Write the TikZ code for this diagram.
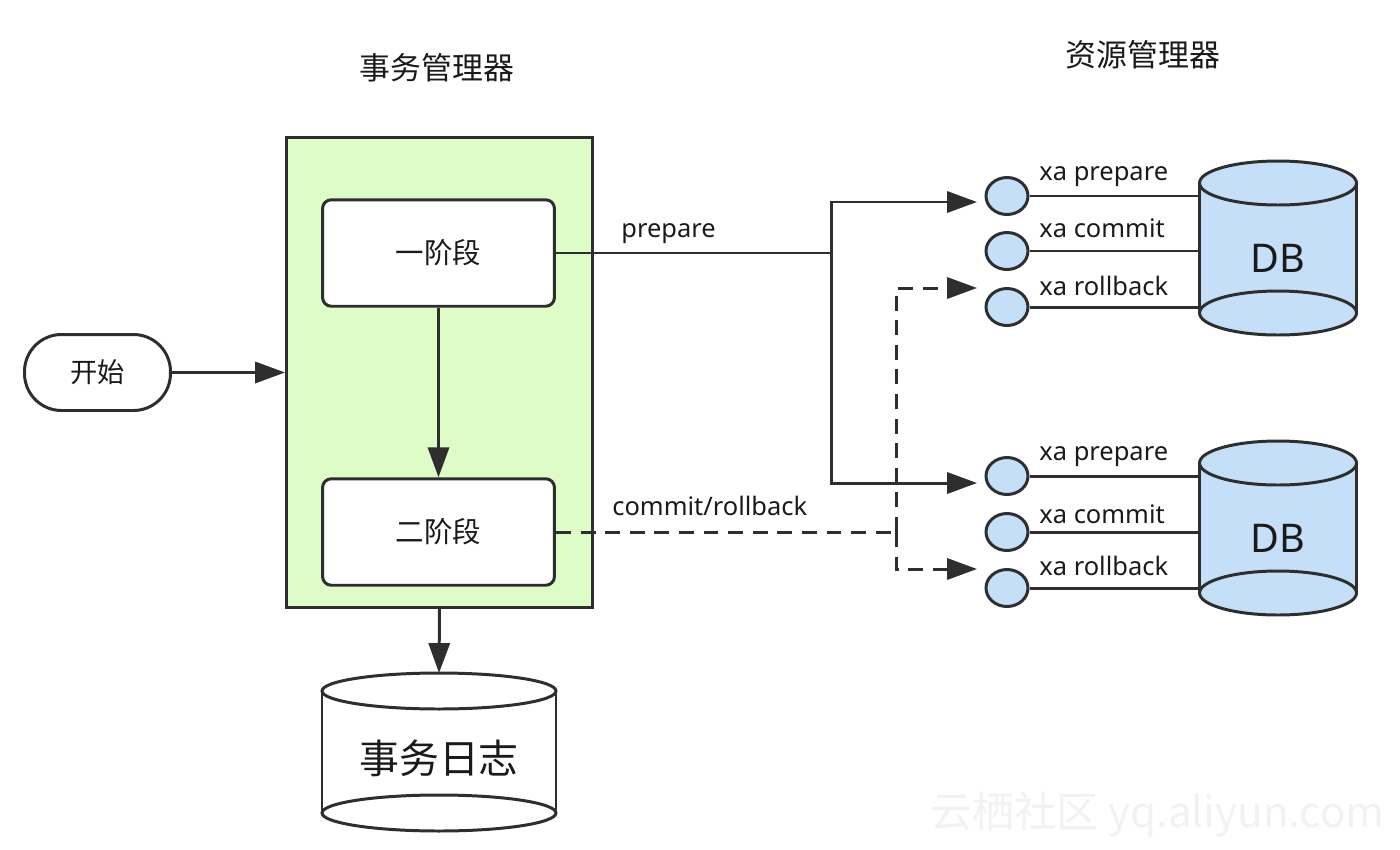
\documentclass[tikz,border=0pt]{standalone}
\usepackage{fontspec}
\setmainfont{Noto Sans}
\newfontfamily\cjk{Noto Sans CJK SC}
\usetikzlibrary{arrows.meta,shapes.geometric,calc}
\definecolor{ln}{HTML}{2E2E2E}
\definecolor{txt}{HTML}{1A1A1A}
\definecolor{gfill}{HTML}{DDFCC8}
\definecolor{bfill}{HTML}{C6DFF9}
\begin{document}
\begin{tikzpicture}[x=0.02cm,y=-0.02cm,
  every node/.style={text=txt},
  wire/.style={draw=ln,line width=1.7pt},
  stagebox/.style={wire,fill=white,rounded corners=5pt,minimum width=4.64cm,minimum height=2.13cm,inner sep=0pt,font=\cjk\fontsize{16.2}{17}\selectfont},
  arr/.style={wire,-{Triangle[length=17pt,width=12pt]}},
  dsh/.style={dash pattern=on 8.5pt off 5.5pt},
  port/.style={ellipse,wire,fill=bfill,minimum width=0.84cm,minimum height=0.74cm,inner sep=0pt},
  lbl/.style={font=\fontsize{14.5}{15}\selectfont,anchor=base west,inner sep=0pt},
  title/.style={font=\cjk\fontsize{17.6}{18}\selectfont},
  dbtext/.style={font=\fontsize{22.5}{23}\selectfont}
]
\useasboundingbox (0,0) rectangle (1400,849);

% watermark
\node[font=\cjk\fontsize{24}{25}\selectfont,text=black!5,anchor=west,inner sep=0pt] (wm) at (930,815) {云栖社区 yq.aliyun.com};

% titles
\node[title] (tmt) at (437,68) {事务管理器};
\node[title] (rmt) at (1143,55) {资源管理器};

% transaction manager
\node[wire,fill=gfill,minimum width=6.12cm,minimum height=9.4cm,inner sep=0pt] (tm) at (439.5,372.5) {};
\node[stagebox] (p1) at (438.5,253) {一阶段};
\node[stagebox] (p2) at (438.5,532) {二阶段};

% start
\node[wire,fill=white,rounded corners=0.74cm,minimum width=2.92cm,minimum height=1.52cm,inner sep=0pt,font=\cjk\fontsize{15.5}{16}\selectfont] (start) at (97.5,372.5) {开始};

% log cylinder
\fill[white] (322,691) rectangle (556,813);
\draw[wire] (439,813) ellipse [x radius=2.34cm, y radius=0.36cm];
\draw[wire] (322,691) -- (322,813) (556,691) -- (556,813);
\draw[wire,fill=white] (439,691) ellipse [x radius=2.34cm, y radius=0.36cm];
\coordinate (logtop) at (439,673);
\node[font=\cjk\fontsize{22.7}{23}\selectfont] (log) at (439,758) {事务日志};

% arrows in TM
\draw[arr] (start.east) -- (start.east -| tm.west);
\draw[arr] (p1.south) -- (p2.north);
\draw[arr] (tm.south) -- (logtop);

% ports
\node[port] (c1) at (1007,196) {};
\node[port] (c2) at (1007,251) {};
\node[port] (c3) at (1007,307) {};
\node[port] (d1) at (1007,476) {};
\node[port] (d2) at (1007,532) {};
\node[port] (d3) at (1007,588) {};

\coordinate (db1l) at (1199.5,183);
\coordinate (db2l) at (1199.5,463);
\draw[wire] (c1.east) -- (c1.east -| db1l);
\draw[wire] (c2.east) -- (c2.east -| db1l);
\draw[wire] (c3.east) -- (c3.east -| db1l);
\draw[wire] (d1.east) -- (d1.east -| db2l);
\draw[wire] (d2.east) -- (d2.east -| db2l);
\draw[wire] (d3.east) -- (d3.east -| db2l);

% DB cylinders
\fill[bfill] (1199.5,183) rectangle (1356.5,313);
\draw[wire,fill=bfill] (1278,313) ellipse [x radius=1.57cm, y radius=0.44cm];
\draw[wire] (1199.5,183) -- (1199.5,313) (1356.5,183) -- (1356.5,313);
\draw[wire,fill=bfill] (1278,183) ellipse [x radius=1.57cm, y radius=0.44cm];
\node[dbtext] (db1) at (1278,258) {DB};

\fill[bfill] (1199.5,463) rectangle (1356.5,593);
\draw[wire,fill=bfill] (1278,593) ellipse [x radius=1.57cm, y radius=0.44cm];
\draw[wire] (1199.5,463) -- (1199.5,593) (1356.5,463) -- (1356.5,593);
\draw[wire,fill=bfill] (1278,463) ellipse [x radius=1.57cm, y radius=0.44cm];
\node[dbtext] (db2) at (1278,538) {DB};

% port labels
\node[lbl] (l1) at (1039,180) {xa prepare};
\node[lbl] (l2) at (1039,237) {xa commit};
\node[lbl] (l3) at (1039,295) {xa rollback};
\node[lbl] (l4) at (1039,460) {xa prepare};
\node[lbl] (l5) at (1039,523) {xa commit};
\node[lbl] (l6) at (1039,575) {xa rollback};

% prepare connectors
\coordinate (j1) at (831,253);
\coordinate (t1) at (977,202);
\coordinate (t4) at (977,483);
\draw[wire] (p1.east) -- (j1);
\draw[arr] (j1) |- (t1);
\draw[arr] (j1) |- (t4);
\node[lbl] (lp) at (621,237) {prepare};

% commit/rollback connectors
\coordinate (j2) at (896,532);
\coordinate (t3) at (977,288);
\coordinate (t6) at (977,569);
\draw[wire,dsh] (p2.east) -- (j2);
\draw[arr,dsh] (j2) |- (t3);
\draw[arr,dsh] (j2) |- (t6);
\node[lbl] (lc) at (612,515) {commit/rollback};

\end{tikzpicture}
\end{document}
